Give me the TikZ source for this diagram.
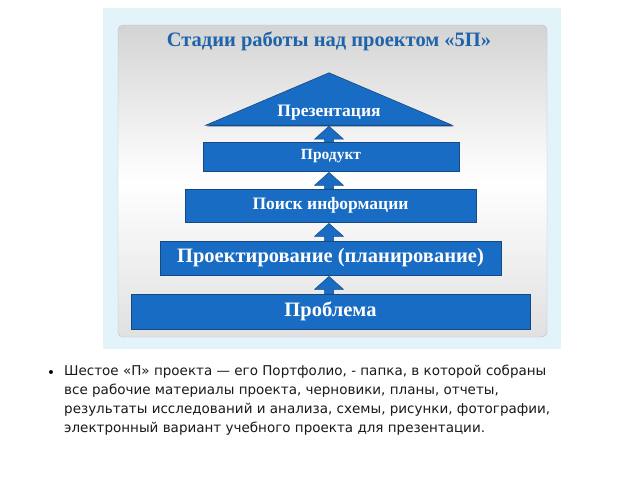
\documentclass[tikz,border=0pt]{standalone}
\usepackage{fontspec}
\setmainfont{Liberation Serif}
\newfontfamily\bodyfont{DejaVu Sans}
\usetikzlibrary{calc,shadows}
\definecolor{bgcyan}{RGB}{226,244,249}
\definecolor{boxblue}{RGB}{24,108,196}
\definecolor{boxedge}{RGB}{22,72,130}
\definecolor{titleblue}{RGB}{30,100,170}
\tikzset{
  stage/.style={fill=boxblue, draw=boxedge, line width=0.8pt, text=white, font=\bfseries,
    inner sep=0pt, drop shadow={opacity=0.35, shadow xshift=1.2pt, shadow yshift=-1.2pt}},
  blockarrow/.style={fill=boxblue, draw=boxedge, line width=0.5pt, line join=miter}
}
\newcommand\blockup[2]{%
  \filldraw[blockarrow] let \p1=(#1.north), \p2=(#2.south), \p0=(pres.south) in
    (\x0-4.5pt,\y1-0.5pt) -- (\x0-4.5pt,\y2-14pt) -- (\x0-14.5pt,\y2-14pt) -- (\x0,\y2-1pt)
    -- (\x0+14.5pt,\y2-14pt) -- (\x0+4.5pt,\y2-14pt) -- (\x0+4.5pt,\y1-0.5pt) -- cycle;}
\begin{document}
\begin{tikzpicture}[x=1pt,y=-1pt]
\useasboundingbox (0,0) rectangle (640,480);
\fill[white] (0,0) rectangle (640,480);
% outer panel
\fill[bgcyan] (103,8) rectangle (561,349);
% inner gradient panel
\node[inner sep=0pt, minimum width=429pt, minimum height=312pt, rounded corners=5pt,
  top color=black!17, bottom color=black!12, middle color=white, draw=black!25, line width=0.4pt]
  (panel) at (332.5,181) {};
\node[text=titleblue, font=\bfseries\fontsize{20.5}{24}\selectfont] (title) at (329,41)
  {Стадии работы над проектом «5П»};
% triangle
\node[inner sep=0pt, minimum width=246pt, minimum height=52pt] (pres) at (329,99) {};
\fill[boxedge] ([xshift=1.2pt,yshift=-1.2pt]pres.south west) -- ([xshift=1.2pt,yshift=-1.2pt]pres.north) -- ([xshift=1.2pt,yshift=-1.2pt]pres.south east) -- cycle;
\filldraw[fill=boxblue, draw=boxedge, line width=0.6pt] (pres.south west) -- (pres.north) -- (pres.south east) -- cycle;
\node[text=white, font=\bfseries\fontsize{17.5}{20}\selectfont] (prestext) at (329,113) {Презентация};
% boxes
\node[stage, minimum width=256pt, minimum height=29pt, font=\bfseries\fontsize{15.5}{18}\selectfont] (prod) at (331,156.5) {Продукт};
\node[stage, minimum width=291pt, minimum height=33pt, font=\bfseries\fontsize{17.5}{20}\selectfont] (poisk) at (330.5,205.5) {Поиск информации};
\node[stage, minimum width=341pt, minimum height=34pt, font=\bfseries\fontsize{20.5}{24}\selectfont] (proekt) at (330.5,258) {Проектирование (планирование)};
\node[stage, minimum width=399pt, minimum height=35pt, font=\bfseries\fontsize{20.5}{24}\selectfont] (probl) at (330.5,311.5) {Проблема};
% arrows
\blockup{probl}{proekt}
\blockup{proekt}{poisk}
\blockup{poisk}{prod}
\blockup{prod}{pres}
% bullet text
\node[font=\bodyfont\fontsize{13.5}{19}\selectfont] (bullet) at (51,374) {•};
\node[anchor=north west, inner sep=0pt, align=left, font=\bodyfont\fontsize{13.5}{19}\selectfont, text=black!90] (body) at (64,365)
  {Шестое «П» проекта — его Портфолио, - папка, в которой собраны\\
   все рабочие материалы проекта, черновики, планы, отчеты,\\
   результаты исследований и анализа, схемы, рисунки, фотографии,\\
   электронный вариант учебного проекта для презентации.};
\end{tikzpicture}
\end{document}
